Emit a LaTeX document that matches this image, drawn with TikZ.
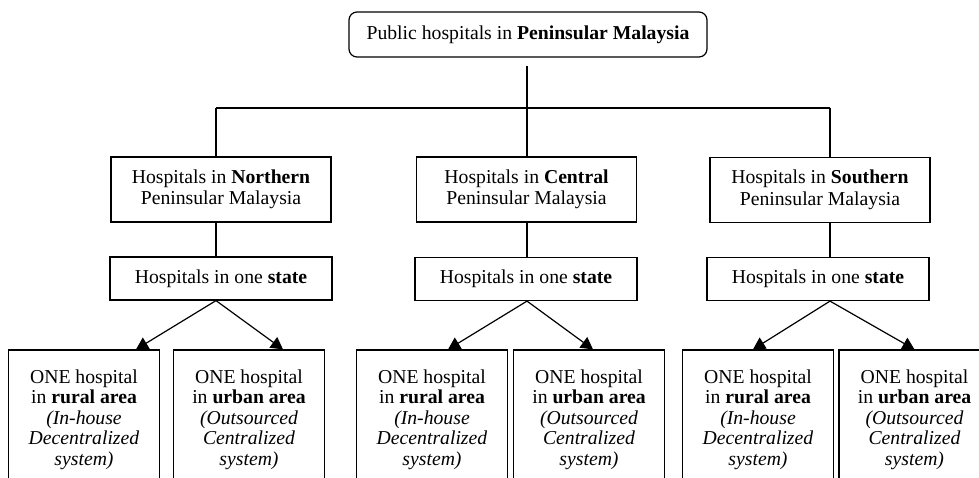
\documentclass[tikz,border=0pt]{standalone}
\usepackage{fontspec}
\setmainfont{Liberation Serif}
\usetikzlibrary{arrows.meta}

\begin{document}
\begin{tikzpicture}[x=0.5pt,y=-0.5pt,line width=0.6pt,font=\fontsize{9.85}{10.75}\selectfont,
    topbox/.style={draw,rounded corners=4pt,minimum width=179pt,minimum height=22.5pt,inner sep=0pt},
    regionbox/.style={draw,align=center,minimum width=110pt,minimum height=32.5pt,inner sep=0pt},
    statebox/.style={draw,minimum width=111pt,minimum height=21.5pt,inner sep=0pt},
    areabox/.style={draw,align=center,minimum width=75.5pt,minimum height=69.5pt,inner sep=0pt,
        font=\fontsize{9.85}{10.25}\selectfont},
    arr/.style={-{Triangle[length=6pt,width=6.5pt]}}]
    \useasboundingbox (0,0) rectangle (979,477);
    \clip (0,0) rectangle (979,477);

    % Cajas
    \node[topbox] (pub) at (528,34.5) {Public hospitals in \textbf{Peninsular Malaysia}};

    \node[regionbox] (north) at (221,189.5) {Hospitals in \textbf{Northern}\\Peninsular Malaysia};
    \node[regionbox] (central) at (526.5,189.5) {Hospitals in \textbf{Central}\\Peninsular Malaysia};
    \node[regionbox] (south) at (820,190) {Hospitals in \textbf{Southern}\\Peninsular Malaysia};

    \node[statebox] (nstate) at (221,278.5) {Hospitals in one \textbf{state}};
    \node[statebox] (cstate) at (526,279) {Hospitals in one \textbf{state}};
    \node[statebox] (sstate) at (818,279) {Hospitals in one \textbf{state}};

    \node[areabox] (nrural) at (84,419.5) {ONE hospital\\in \textbf{rural area}\\\textit{(In-house}\\\textit{Decentralized}\\\textit{system)}};
    \node[areabox] (nurban) at (249,419.5) {ONE hospital\\in \textbf{urban area}\\\textit{(Outsourced}\\\textit{Centralized}\\\textit{system)}};
    \node[areabox] (crural) at (432,419.5) {ONE hospital\\in \textbf{rural area}\\\textit{(In-house}\\\textit{Decentralized}\\\textit{system)}};
    \node[areabox] (curban) at (589,419.5) {ONE hospital\\in \textbf{urban area}\\\textit{(Outsourced}\\\textit{Centralized}\\\textit{system)}};
    \node[areabox] (srural) at (758,419.5) {ONE hospital\\in \textbf{rural area}\\\textit{(In-house}\\\textit{Decentralized}\\\textit{system)}};
    \node[areabox] (surban) at (914.5,419.5) {ONE hospital\\in \textbf{urban area}\\\textit{(Outsourced}\\\textit{Centralized}\\\textit{system)}};

    % Lineas
    \coordinate (jn) at (216,108);
    \coordinate (jc) at (527,108);
    \coordinate (js) at (830,108);
    \draw[shorten <=4pt] (pub.south -| jc) -- (jc);
    \draw (jn) -- (js);
    \draw (jn) -- (jn |- north.north);
    \draw (jc) -- (jc |- central.north);
    \draw (js) -- (js |- south.north);
    \draw (north.south -| jn) -- (nstate.north -| jn);
    \draw (central.south -| jc) -- (cstate.north -| jc);
    \draw (south.south -| js) -- (sstate.north -| js);

    % Flechas
    \draw[arr] (nstate.south -| jn) -- ([xshift=26pt]nrural.north);
    \draw[arr] (nstate.south -| jn) -- ([xshift=17pt]nurban.north);
    \draw[arr] (cstate.south -| jc) -- ([xshift=8pt]crural.north);
    \draw[arr] (cstate.south -| jc) -- ([xshift=2pt]curban.north);
    \draw[arr] (sstate.south -| js) -- ([xshift=-2.5pt]srural.north);
    \draw[arr] (sstate.south -| js) -- (surban.north);
\end{tikzpicture}
\end{document}
